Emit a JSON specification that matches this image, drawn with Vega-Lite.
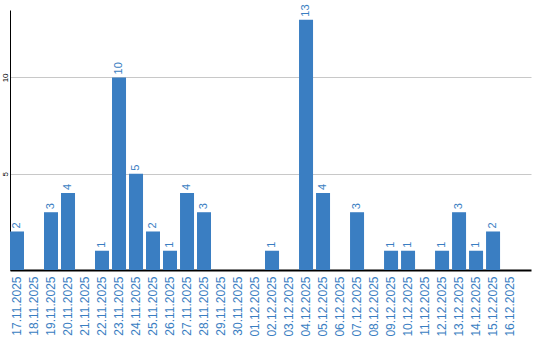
{
  "$schema": "https://vega.github.io/schema/vega-lite/v6.json",
  "autosize": "none",
  "padding": {"left": 10, "top": 10, "right": 9, "bottom": 70},
  "width": 521,
  "height": 260,
  "background": "white",
  "config": {"view": {"stroke": null}, "font": "Liberation Sans"},
  "data": {"values": [
    {"date": "17.11.2025", "count": 2},
    {"date": "18.11.2025", "count": 0},
    {"date": "19.11.2025", "count": 3},
    {"date": "20.11.2025", "count": 4},
    {"date": "21.11.2025", "count": 0},
    {"date": "22.11.2025", "count": 1},
    {"date": "23.11.2025", "count": 10},
    {"date": "24.11.2025", "count": 5},
    {"date": "25.11.2025", "count": 2},
    {"date": "26.11.2025", "count": 1},
    {"date": "27.11.2025", "count": 4},
    {"date": "28.11.2025", "count": 3},
    {"date": "29.11.2025", "count": 0},
    {"date": "30.11.2025", "count": 0},
    {"date": "01.12.2025", "count": 0},
    {"date": "02.12.2025", "count": 1},
    {"date": "03.12.2025", "count": 0},
    {"date": "04.12.2025", "count": 13},
    {"date": "05.12.2025", "count": 4},
    {"date": "06.12.2025", "count": 0},
    {"date": "07.12.2025", "count": 3},
    {"date": "08.12.2025", "count": 0},
    {"date": "09.12.2025", "count": 1},
    {"date": "10.12.2025", "count": 1},
    {"date": "11.12.2025", "count": 0},
    {"date": "12.12.2025", "count": 1},
    {"date": "13.12.2025", "count": 3},
    {"date": "14.12.2025", "count": 1},
    {"date": "15.12.2025", "count": 2},
    {"date": "16.12.2025", "count": 0}
  ]},
  "encoding": {
    "x": {
      "field": "date", "type": "ordinal", "sort": null,
      "scale": {"paddingInner": 0.176, "paddingOuter": 0.41, "align": 0},
      "axis": {
        "title": null, "labelAngle": -90, "labelAlign": "right", "labelBaseline": "middle",
        "labelFontSize": 12, "labelColor": "#3a7ec2", "labelPadding": 6,
        "ticks": false, "tickSize": 0, "domainColor": "#000000", "domainWidth": 2, "grid": false
      }
    },
    "y": {
      "field": "count", "type": "quantitative",
      "scale": {"domain": [0, 13.5], "nice": false, "zero": true},
      "axis": {
        "title": null, "values": [5, 10], "labelAngle": -90, "labelAlign": "center", "labelBaseline": "alphabetic",
        "labelFontSize": 8, "labelColor": "#000000", "labelPadding": 3,
        "ticks": false, "tickSize": 0, "domainColor": "#000000", "domainWidth": 1,
        "grid": true, "gridColor": "#c8c8c8", "gridWidth": 1
      }
    }
  },
  "layer": [
    {"mark": {"type": "bar", "color": "#3a7ec2"}},
    {
      "transform": [{"filter": "datum.count > 0"}],
      "mark": {"type": "text", "angle": -90, "align": "left", "baseline": "middle", "dx": 3, "fontSize": 11, "color": "#3a7ec2"},
      "encoding": {"text": {"field": "count", "type": "quantitative"}}
    }
  ]
}
